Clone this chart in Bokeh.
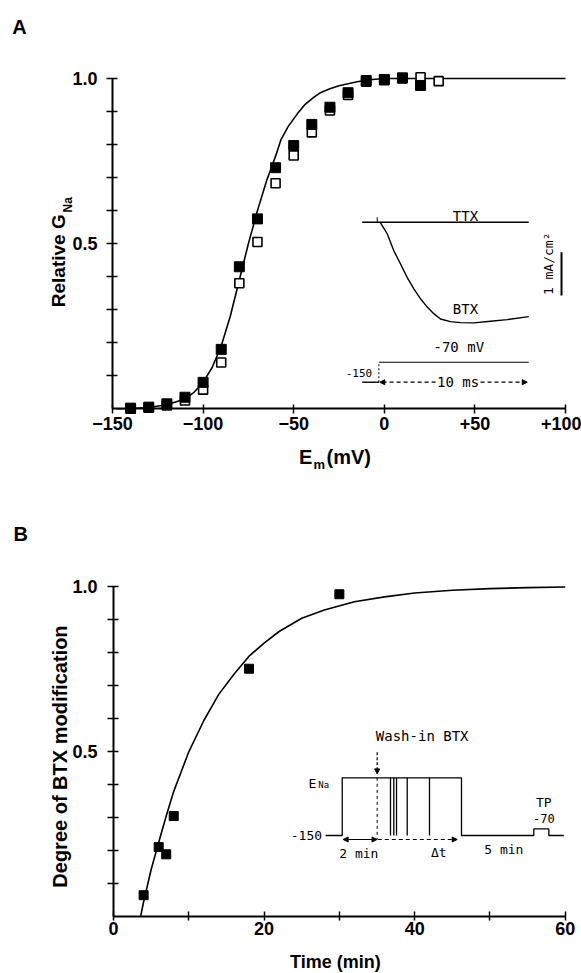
import math
from bokeh.plotting import figure
from bokeh.models import Range1d, FixedTicker, Label, Arrow, NormalHead
from bokeh.layouts import column
from bokeh.embed import file_html
from bokeh.resources import INLINE

# ---------------- Panel A data ----------------
em_filled = [-140, -130, -120, -110, -100, -90, -80, -70, -60, -50, -40, -30, -20, -10, 0, 10, 20]
g_filled = [0.002, 0.005, 0.015, 0.035, 0.08, 0.18, 0.43, 0.575, 0.73, 0.797, 0.861, 0.913, 0.957, 0.994, 0.997, 1.002, 0.979]
em_open = [-140, -130, -120, -110, -100, -90, -80, -70, -60, -50, -40, -30, -20, -10, 0, 10, 20, 30]
g_open = [0.0, 0.003, 0.01, 0.025, 0.058, 0.14, 0.38, 0.505, 0.683, 0.767, 0.837, 0.903, 0.95, 0.99, 0.995, 1.0, 1.004, 0.992]
fit_em = [-148, -140, -130, -120, -110, -105, -100, -95, -90, -85, -80, -75, -70, -65, -60, -57, -53, -48,
          -44, -39, -35, -30, -25, -20, -15, -10, -5, 0, 20, 50, 100]
fit_g = [0.0, 0.001, 0.004, 0.012, 0.03, 0.05, 0.08, 0.125, 0.19, 0.28, 0.39, 0.50, 0.60, 0.69, 0.765, 0.815,
         0.855, 0.893, 0.92, 0.943, 0.958, 0.969, 0.978, 0.984, 0.99, 0.995, 0.998, 1.0, 1.0, 1.0, 1.0]
a_xticks = [-150, -100, -50, 0, 50, 100]
a_xlabels = ["\u2212150", "\u2212100", "\u221250", "0", "+50", "+100"]
a_yticks = [0.1, 0.2, 0.3, 0.4, 0.5, 0.6, 0.7, 0.8, 0.9, 1.0]
a_ylabels = ["", "", "", "", "0.5", "", "", "", "", "1.0"]

# inset A: current traces and voltage protocol (drawn in panel A units)
ttx_x = [-12.2, 79.7]
ttx_y = [0.565, 0.565]
btx_x = [-2.1, 1.6, 5.2, 8.9, 12.6, 16.3, 20.0, 23.7, 27.3, 31.0, 36.5, 42.1, 49.4, 58.6, 67.8, 79.7]
btx_y = [0.563, 0.530, 0.479, 0.439, 0.398, 0.363, 0.333, 0.308, 0.288, 0.272, 0.264, 0.261, 0.260, 0.265, 0.270, 0.279]
step_x = [-12.2, -3.0, -3.0, 79.7]
step_y = [0.0805, 0.0805, 0.141, 0.141]

# ---------------- Panel B data ----------------
t_min = [4, 6, 7, 8, 18, 30]
btx_mod = [0.065, 0.211, 0.189, 0.305, 0.752, 0.978]
fit_t = [3.6, 4, 5, 6, 7, 8, 10, 12, 14, 16, 18, 20, 22, 25, 28, 32, 36, 40, 45, 50, 55, 60]
fit_mod = [0.0, 0.045, 0.143, 0.225, 0.305, 0.38, 0.50, 0.595, 0.675, 0.735, 0.79, 0.83, 0.865, 0.905,
           0.93, 0.955, 0.97, 0.982, 0.99, 0.995, 0.998, 1.0]
b_xticks = [0, 10, 20, 30, 40, 50, 60]
b_xlabels = ["0", "", "20", "", "40", "", "60"]
b_yticks = [0.1, 0.2, 0.3, 0.4, 0.5, 0.6, 0.7, 0.8, 0.9, 1.0]
b_ylabels = ["", "", "", "", "0.5", "", "", "", "", "1.0"]

# inset B: protocol (drawn in panel B units)
prot_x = [28.16, 30.38, 30.38, 46.22, 46.22, 55.82, 55.82, 57.82, 57.82, 59.81]
prot_y = [0.246, 0.246, 0.421, 0.421, 0.246, 0.246, 0.266, 0.266, 0.246, 0.246]
pulse_t = [36.79, 37.23, 37.59, 39.01, 41.97]

MAIN = "Liberation Sans"
INS = "DejaVu Sans Mono"


def style_axis(ax, ticks, labels, t_in, t_out, standoff):
    ax.ticker = FixedTicker(ticks=ticks)
    ax.major_label_overrides = {k: v for k, v in zip(ticks, labels)}
    ax.axis_line_width = 2
    ax.axis_line_color = "black"
    ax.major_tick_line_width = 1.5
    ax.major_tick_line_color = "black"
    ax.major_tick_in = t_in
    ax.major_tick_out = t_out
    ax.minor_tick_line_color = None
    ax.major_label_text_font = MAIN
    ax.major_label_text_font_size = "18px"
    ax.major_label_text_font_style = "bold"
    ax.major_label_text_color = "black"
    ax.major_label_standoff = standoff


def lab(p, x, y, text, size, font=MAIN, bold=True, align="left", baseline="alphabetic", angle=0.0):
    p.add_layout(Label(x=x, y=y, text=text, text_font=font, text_font_size=size,
                       text_font_style="bold" if bold else "normal", text_align=align,
                       text_baseline=baseline, angle=angle, text_color="black"))


def arrow(p, x0, y0, x1, y1, dash="solid", both=False, size=6):
    p.add_layout(Arrow(end=NormalHead(size=size, fill_color="black", line_color="black", line_width=1),
                       start=NormalHead(size=size, fill_color="black", line_color="black", line_width=1) if both else None,
                       x_start=x0, y_start=y0, x_end=x1, y_end=y1, line_width=1.2, line_color="black",
                       line_dash=dash))


def base_fig(w, h, xr, yr):
    p = figure(width=w, height=h, x_range=Range1d(*xr), y_range=Range1d(*yr), title=None,
               output_backend="svg", toolbar_location=None, min_border=0,
               min_border_left=0, min_border_right=0, min_border_top=0, min_border_bottom=0)
    p.outline_line_color = None
    p.grid.visible = False
    return p


# ---------------- Figure A ----------------
# frame fills the whole figure; axes are placed at fixed data locations
pa = base_fig(581, 480, (-211.81, 108.83), (-0.2171, 1.2362))
pa.xaxis.fixed_location = 0
pa.yaxis.fixed_location = -150
pa.xaxis.bounds = (-150, 100)
pa.yaxis.bounds = (0, 1)
style_axis(pa.xaxis[0], a_xticks, a_xlabels, 4, 5, 3)
style_axis(pa.yaxis[0], a_yticks, a_ylabels, 5, 6, 9)

pa.line(fit_em, fit_g, line_width=1.6, color="black")
pa.scatter(em_open, g_open, marker="square", size=9, fill_color="white", line_color="black", line_width=1.6)
pa.scatter(em_filled, g_filled, marker="square", size=10, fill_color="black", line_color="black")

# inset A
pa.line(ttx_x, ttx_y, line_width=1.4, color="black")
pa.line([-3.9, -3.9], [0.562, 0.58], line_width=1, color="black")
pa.line(btx_x, btx_y, line_width=1.4, color="black")
pa.line([step_x[0], step_x[1]], [step_y[0], step_y[1]], line_width=1.4, color="black")
pa.line([step_x[1], step_x[2]], [step_y[1], step_y[2]], line_width=1, color="black", line_dash="2 2")
pa.line([step_x[2], step_x[3]], [step_y[2], step_y[3]], line_width=1.2, color="black")
pa.line([97.8, 97.8], [0.343, 0.474], line_width=2, color="black")
lab(pa, 44.8, 0.585, "TTX", "14px", font=INS, bold=False, align="center", baseline="middle")
lab(pa, 44.8, 0.303, "BTX", "14px", font=INS, bold=False, align="center", baseline="middle")
lab(pa, 90.8, 0.439, "1 mA/cm\u00b2", "13px", font=INS, bold=False, align="center", baseline="middle",
    angle=math.pi / 2)
lab(pa, 41.1, 0.1865, "-70 mV", "14px", font=INS, bold=False, align="center", baseline="middle")
lab(pa, -6.7, 0.107, "-150", "11px", font=INS, bold=False, align="right", baseline="middle")
lab(pa, 40.7, 0.0805, "10 ms", "14px", font=INS, bold=False, align="center", baseline="middle")
arrow(pa, 28.3, 0.0805, -2.5, 0.0805, dash="4 3", size=5)
arrow(pa, 53.1, 0.0805, 78.9, 0.0805, dash="4 3", size=5)

# axis titles and panel letter A
lab(pa, -205.35, 1.1553, "A", "20px")
lab(pa, -179.6, 0.3076, "Relative G", "19px", angle=math.pi / 2)
lab(pa, -174.8, 0.5946, "Na", "12px", angle=math.pi / 2)
lab(pa, -47.1, -0.1465, "E", "20px")
lab(pa, -39.1, -0.1675, "m", "13px")
lab(pa, -31.9, -0.1465, "(mV)", "20px")

# ---------------- Figure B ----------------
pb = base_fig(581, 493, (-15.009, 62.159), (-0.1726, 1.3231))
pb.xaxis.fixed_location = 0
pb.yaxis.fixed_location = 0
pb.xaxis.bounds = (0, 60)
pb.yaxis.bounds = (0, 1)
style_axis(pb.xaxis[0], b_xticks, b_xlabels, 5, 4, 1)
style_axis(pb.yaxis[0], b_yticks, b_ylabels, 5, 6, 10)

pb.line(fit_t, fit_mod, line_width=1.6, color="black")
pb.scatter(t_min, btx_mod, marker="square", size=9, fill_color="black", line_color="black")

# inset B
pb.line(prot_x, prot_y, line_width=1.3, color="black")
for tp in pulse_t:
    pb.line([tp, tp], [0.246, 0.421], line_width=1.3, color="black")
pb.line([35.02, 35.02], [0.421, 0.234], line_width=1, color="black", line_dash="3 3")
arrow(pb, 35.02, 0.499, 35.02, 0.433, dash="3 2", size=5)
arrow(pb, 30.5, 0.234, 35.0, 0.234, both=True, size=5)
arrow(pb, 35.1, 0.234, 45.65, 0.234, dash="4 3", size=5)
lab(pb, 41.0, 0.549, "Wash-in BTX", "14px", font=INS, bold=False, align="center", baseline="middle")
lab(pb, 25.9, 0.403, "E", "13px", font=INS, bold=False)
lab(pb, 27.2, 0.398, "Na", "9px", font=INS, bold=False)
lab(pb, 27.7, 0.246, "-150", "13px", font=INS, bold=False, align="right", baseline="middle")
lab(pb, 32.58, 0.192, "2 min", "13px", font=INS, bold=False, align="center", baseline="middle")
lab(pb, 43.21, 0.195, "\u0394t", "13px", font=INS, bold=False, align="center", baseline="middle")
lab(pb, 51.84, 0.203, "5 min", "13px", font=INS, bold=False, align="center", baseline="middle")
lab(pb, 57.15, 0.347, "TP", "13px", font=INS, bold=False, align="center", baseline="middle")
lab(pb, 57.15, 0.297, "-70", "12px", font=INS, bold=False, align="center", baseline="middle")

# axis titles and panel letter B
lab(pb, -13.28, 1.1614, "B", "20px")
lab(pb, -7.04, 0.494, "Degree of BTX  modification", "20px", align="center", angle=math.pi / 2)
lab(pb, 29.47, -0.1363, "Time (min)", "18px", align="center")

layout = column(pa, pb, spacing=0)
open("out.html", "w").write(file_html(layout, INLINE))
